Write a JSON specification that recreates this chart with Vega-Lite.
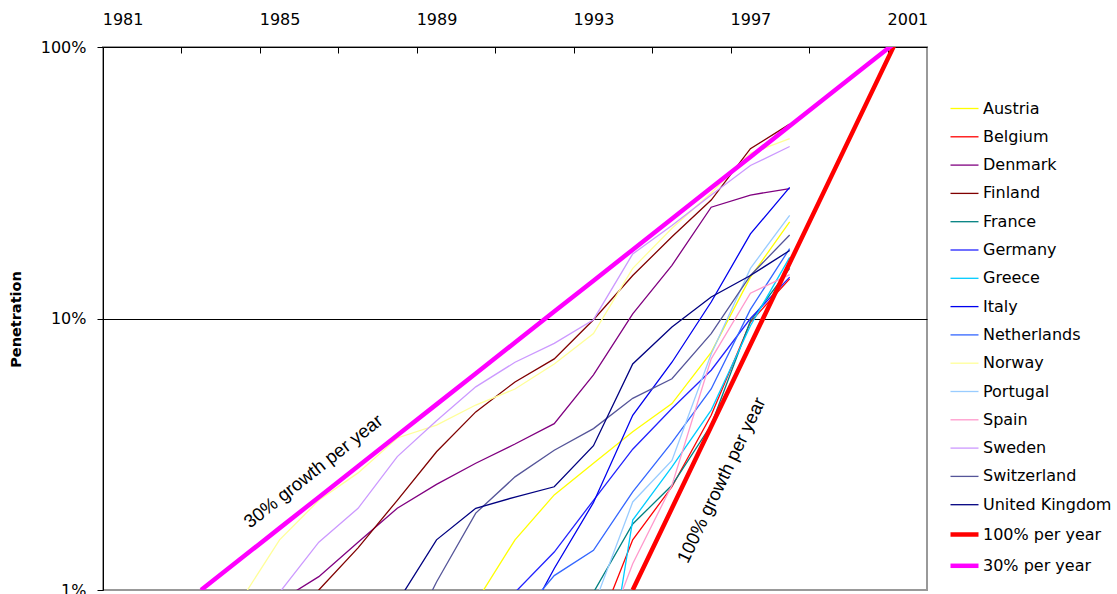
{
  "$schema": "https://vega.github.io/schema/vega-lite/v6.json",
  "width": 824,
  "height": 543,
  "autosize": {"type": "none"},
  "padding": {"left": 103, "top": 47, "right": 190, "bottom": 4},
  "background": "white",
  "config": {"view": {"stroke": "#999999", "strokeWidth": 2}, "font": "DejaVu Sans"},
  "layer": [
    {
      "data": {"values": [
        {"series": "Austria", "year": 1990, "penetration": 0.0090},
        {"series": "Austria", "year": 1991, "penetration": 0.0153},
        {"series": "Austria", "year": 1992, "penetration": 0.0224},
        {"series": "Austria", "year": 1993, "penetration": 0.0293},
        {"series": "Austria", "year": 1994, "penetration": 0.0383},
        {"series": "Austria", "year": 1995, "penetration": 0.0486},
        {"series": "Austria", "year": 1996, "penetration": 0.075},
        {"series": "Austria", "year": 1997, "penetration": 0.142},
        {"series": "Austria", "year": 1998, "penetration": 0.227},
        {"series": "Belgium", "year": 1993, "penetration": 0.0066},
        {"series": "Belgium", "year": 1994, "penetration": 0.0153},
        {"series": "Belgium", "year": 1995, "penetration": 0.024},
        {"series": "Belgium", "year": 1996, "penetration": 0.044},
        {"series": "Belgium", "year": 1997, "penetration": 0.097},
        {"series": "Belgium", "year": 1998, "penetration": 0.140},
        {"series": "Denmark", "year": 1985, "penetration": 0.0091},
        {"series": "Denmark", "year": 1986, "penetration": 0.0112},
        {"series": "Denmark", "year": 1987, "penetration": 0.015},
        {"series": "Denmark", "year": 1988, "penetration": 0.020},
        {"series": "Denmark", "year": 1989, "penetration": 0.0245},
        {"series": "Denmark", "year": 1990, "penetration": 0.0293},
        {"series": "Denmark", "year": 1991, "penetration": 0.0345},
        {"series": "Denmark", "year": 1992, "penetration": 0.041},
        {"series": "Denmark", "year": 1993, "penetration": 0.062},
        {"series": "Denmark", "year": 1994, "penetration": 0.104},
        {"series": "Denmark", "year": 1995, "penetration": 0.157},
        {"series": "Denmark", "year": 1996, "penetration": 0.257},
        {"series": "Denmark", "year": 1997, "penetration": 0.285},
        {"series": "Denmark", "year": 1998, "penetration": 0.301},
        {"series": "Finland", "year": 1985, "penetration": 0.006},
        {"series": "Finland", "year": 1986, "penetration": 0.010},
        {"series": "Finland", "year": 1987, "penetration": 0.0143},
        {"series": "Finland", "year": 1988, "penetration": 0.0214},
        {"series": "Finland", "year": 1989, "penetration": 0.0323},
        {"series": "Finland", "year": 1990, "penetration": 0.0453},
        {"series": "Finland", "year": 1991, "penetration": 0.0584},
        {"series": "Finland", "year": 1992, "penetration": 0.071},
        {"series": "Finland", "year": 1993, "penetration": 0.099},
        {"series": "Finland", "year": 1994, "penetration": 0.144},
        {"series": "Finland", "year": 1995, "penetration": 0.200},
        {"series": "Finland", "year": 1996, "penetration": 0.273},
        {"series": "Finland", "year": 1997, "penetration": 0.422},
        {"series": "Finland", "year": 1998, "penetration": 0.520},
        {"series": "France", "year": 1992, "penetration": 0.006},
        {"series": "France", "year": 1993, "penetration": 0.0098},
        {"series": "France", "year": 1994, "penetration": 0.0175},
        {"series": "France", "year": 1995, "penetration": 0.0243},
        {"series": "France", "year": 1996, "penetration": 0.0405},
        {"series": "France", "year": 1997, "penetration": 0.098},
        {"series": "France", "year": 1998, "penetration": 0.153},
        {"series": "Germany", "year": 1990, "penetration": 0.006},
        {"series": "Germany", "year": 1991, "penetration": 0.0098},
        {"series": "Germany", "year": 1992, "penetration": 0.0138},
        {"series": "Germany", "year": 1993, "penetration": 0.0214},
        {"series": "Germany", "year": 1994, "penetration": 0.033},
        {"series": "Germany", "year": 1995, "penetration": 0.0466},
        {"series": "Germany", "year": 1996, "penetration": 0.0645},
        {"series": "Germany", "year": 1997, "penetration": 0.100},
        {"series": "Germany", "year": 1998, "penetration": 0.142},
        {"series": "Greece", "year": 1993, "penetration": 0.0023},
        {"series": "Greece", "year": 1994, "penetration": 0.0181},
        {"series": "Greece", "year": 1995, "penetration": 0.0284},
        {"series": "Greece", "year": 1996, "penetration": 0.046},
        {"series": "Greece", "year": 1997, "penetration": 0.094},
        {"series": "Greece", "year": 1998, "penetration": 0.168},
        {"series": "Italy", "year": 1991, "penetration": 0.0065},
        {"series": "Italy", "year": 1992, "penetration": 0.012},
        {"series": "Italy", "year": 1993, "penetration": 0.021},
        {"series": "Italy", "year": 1994, "penetration": 0.044},
        {"series": "Italy", "year": 1995, "penetration": 0.069},
        {"series": "Italy", "year": 1996, "penetration": 0.115},
        {"series": "Italy", "year": 1997, "penetration": 0.205},
        {"series": "Italy", "year": 1998, "penetration": 0.304},
        {"series": "Netherlands", "year": 1991, "penetration": 0.0076},
        {"series": "Netherlands", "year": 1992, "penetration": 0.0113},
        {"series": "Netherlands", "year": 1993, "penetration": 0.014},
        {"series": "Netherlands", "year": 1994, "penetration": 0.023},
        {"series": "Netherlands", "year": 1995, "penetration": 0.035},
        {"series": "Netherlands", "year": 1996, "penetration": 0.055},
        {"series": "Netherlands", "year": 1997, "penetration": 0.108},
        {"series": "Netherlands", "year": 1998, "penetration": 0.181},
        {"series": "Norway", "year": 1984, "penetration": 0.0091},
        {"series": "Norway", "year": 1985, "penetration": 0.0153},
        {"series": "Norway", "year": 1986, "penetration": 0.0214},
        {"series": "Norway", "year": 1987, "penetration": 0.027},
        {"series": "Norway", "year": 1988, "penetration": 0.0363},
        {"series": "Norway", "year": 1989, "penetration": 0.0405},
        {"series": "Norway", "year": 1990, "penetration": 0.048},
        {"series": "Norway", "year": 1991, "penetration": 0.055},
        {"series": "Norway", "year": 1992, "penetration": 0.068},
        {"series": "Norway", "year": 1993, "penetration": 0.088},
        {"series": "Norway", "year": 1994, "penetration": 0.153},
        {"series": "Norway", "year": 1995, "penetration": 0.215},
        {"series": "Norway", "year": 1996, "penetration": 0.29},
        {"series": "Norway", "year": 1997, "penetration": 0.406},
        {"series": "Norway", "year": 1998, "penetration": 0.46},
        {"series": "Portugal", "year": 1993, "penetration": 0.0087},
        {"series": "Portugal", "year": 1994, "penetration": 0.0211},
        {"series": "Portugal", "year": 1995, "penetration": 0.030},
        {"series": "Portugal", "year": 1996, "penetration": 0.074},
        {"series": "Portugal", "year": 1997, "penetration": 0.153},
        {"series": "Portugal", "year": 1998, "penetration": 0.240},
        {"series": "Spain", "year": 1993, "penetration": 0.0052},
        {"series": "Spain", "year": 1994, "penetration": 0.0125},
        {"series": "Spain", "year": 1995, "penetration": 0.0243},
        {"series": "Spain", "year": 1996, "penetration": 0.071},
        {"series": "Spain", "year": 1997, "penetration": 0.124},
        {"series": "Spain", "year": 1998, "penetration": 0.145},
        {"series": "Sweden", "year": 1984, "penetration": 0.006},
        {"series": "Sweden", "year": 1985, "penetration": 0.0098},
        {"series": "Sweden", "year": 1986, "penetration": 0.015},
        {"series": "Sweden", "year": 1987, "penetration": 0.020},
        {"series": "Sweden", "year": 1988, "penetration": 0.031},
        {"series": "Sweden", "year": 1989, "penetration": 0.042},
        {"series": "Sweden", "year": 1990, "penetration": 0.056},
        {"series": "Sweden", "year": 1991, "penetration": 0.069},
        {"series": "Sweden", "year": 1992, "penetration": 0.081},
        {"series": "Sweden", "year": 1993, "penetration": 0.099},
        {"series": "Sweden", "year": 1994, "penetration": 0.173},
        {"series": "Sweden", "year": 1995, "penetration": 0.22},
        {"series": "Sweden", "year": 1996, "penetration": 0.285},
        {"series": "Sweden", "year": 1997, "penetration": 0.366},
        {"series": "Sweden", "year": 1998, "penetration": 0.43},
        {"series": "Switzerland", "year": 1988, "penetration": 0.0055},
        {"series": "Switzerland", "year": 1989, "penetration": 0.0107},
        {"series": "Switzerland", "year": 1990, "penetration": 0.0192},
        {"series": "Switzerland", "year": 1991, "penetration": 0.0261},
        {"series": "Switzerland", "year": 1992, "penetration": 0.0327},
        {"series": "Switzerland", "year": 1993, "penetration": 0.0393},
        {"series": "Switzerland", "year": 1994, "penetration": 0.0508},
        {"series": "Switzerland", "year": 1995, "penetration": 0.060},
        {"series": "Switzerland", "year": 1996, "penetration": 0.088},
        {"series": "Switzerland", "year": 1997, "penetration": 0.144},
        {"series": "Switzerland", "year": 1998, "penetration": 0.203},
        {"series": "United Kingdom", "year": 1988, "penetration": 0.009},
        {"series": "United Kingdom", "year": 1989, "penetration": 0.0153},
        {"series": "United Kingdom", "year": 1990, "penetration": 0.020},
        {"series": "United Kingdom", "year": 1991, "penetration": 0.022},
        {"series": "United Kingdom", "year": 1992, "penetration": 0.024},
        {"series": "United Kingdom", "year": 1993, "penetration": 0.034},
        {"series": "United Kingdom", "year": 1994, "penetration": 0.068},
        {"series": "United Kingdom", "year": 1995, "penetration": 0.093},
        {"series": "United Kingdom", "year": 1996, "penetration": 0.12},
        {"series": "United Kingdom", "year": 1997, "penetration": 0.144},
        {"series": "United Kingdom", "year": 1998, "penetration": 0.178},
        {"series": "100% per year", "year": 1994, "penetration": 0.01},
        {"series": "100% per year", "year": 1995, "penetration": 0.02},
        {"series": "100% per year", "year": 1996, "penetration": 0.04},
        {"series": "100% per year", "year": 1997, "penetration": 0.08},
        {"series": "100% per year", "year": 1998, "penetration": 0.16},
        {"series": "100% per year", "year": 1999, "penetration": 0.32},
        {"series": "100% per year", "year": 2000, "penetration": 0.64},
        {"series": "100% per year", "year": 2001, "penetration": 1.28},
        {"series": "30% per year", "year": 1983, "penetration": 0.01},
        {"series": "30% per year", "year": 1984, "penetration": 0.013},
        {"series": "30% per year", "year": 1985, "penetration": 0.0169},
        {"series": "30% per year", "year": 1986, "penetration": 0.02197},
        {"series": "30% per year", "year": 1987, "penetration": 0.02856},
        {"series": "30% per year", "year": 1988, "penetration": 0.03713},
        {"series": "30% per year", "year": 1989, "penetration": 0.04827},
        {"series": "30% per year", "year": 1990, "penetration": 0.06275},
        {"series": "30% per year", "year": 1991, "penetration": 0.08157},
        {"series": "30% per year", "year": 1992, "penetration": 0.10604},
        {"series": "30% per year", "year": 1993, "penetration": 0.13786},
        {"series": "30% per year", "year": 1994, "penetration": 0.17922},
        {"series": "30% per year", "year": 1995, "penetration": 0.23298},
        {"series": "30% per year", "year": 1996, "penetration": 0.30288},
        {"series": "30% per year", "year": 1997, "penetration": 0.39374},
        {"series": "30% per year", "year": 1998, "penetration": 0.51186},
        {"series": "30% per year", "year": 1999, "penetration": 0.66542},
        {"series": "30% per year", "year": 2000, "penetration": 0.86504},
        {"series": "30% per year", "year": 2001, "penetration": 1.12455}
      ]},
      "mark": {"type": "line", "clip": true},
      "encoding": {
        "x": {
          "field": "year", "type": "quantitative",
          "scale": {"domain": [1980.5, 2001.5], "nice": false, "zero": false},
          "axis": {
            "orient": "top", "title": null,
            "values": [1980.5,1981.5,1982.5,1983.5,1984.5,1985.5,1986.5,1987.5,1988.5,1989.5,1990.5,1991.5,1992.5,1993.5,1994.5,1995.5,1996.5,1997.5,1998.5,1999.5,2000.5,2001.5],
            "labelExpr": "(datum.value - 1980.5) % 4 === 0 && datum.value < 2001 ? format(datum.value + 0.5, 'd') : ''",
            "labelOffset": 19.62, "labelFlush": false, "labelBound": false,
            "labelAngle": 0, "labelFont": "DejaVu Sans", "labelFontSize": 16, "labelColor": "black",
            "labelBaseline": "alphabetic", "labelPadding": 28.4, "labelOverlap": false,
            "tickSize": -6, "tickColor": "black", "tickWidth": 1,
            "domainColor": "black", "domainWidth": 1, "grid": false
          }
        },
        "y": {
          "field": "penetration", "type": "quantitative",
          "scale": {"type": "log", "domain": [0.01, 1], "nice": false},
          "axis": {
            "title": "Penetration", "values": [0.01, 0.1, 1], "format": ".0%",
            "labelFont": "DejaVu Sans", "labelFontSize": 16, "labelColor": "black", "labelPadding": 11,
            "tickSize": 6, "tickColor": "black", "domainColor": "black", "domainWidth": 1,
            "grid": true, "gridColor": "black", "gridWidth": 1,
            "gridOpacity": {"condition": {"test": "abs(datum.value - 0.1) < 1e-9", "value": 1}, "value": 0},
            "titleFont": "DejaVu Sans", "titleFontWeight": "bold", "titleFontSize": 14.5, "titleColor": "black",
            "titleX": -87, "titleY": 272, "titleAngle": 270, "titleAlign": "center", "titleBaseline": "middle"
          }
        },
        "color": {
          "field": "series", "type": "nominal",
          "scale": {
            "domain": ["Austria","Belgium","Denmark","Finland","France","Germany","Greece","Italy","Netherlands","Norway","Portugal","Spain","Sweden","Switzerland","United Kingdom","100% per year","30% per year"],
            "range": ["#FFFF00","#FF0000","#800080","#800000","#008080","#2222FF","#00CCFF","#0000EE","#3366FF","#FFFF99","#99CCFF","#FF99CC","#CC99FF","#555599","#000080","#FF0000","#FF00FF"]
          },
          "legend": {
            "title": null, "orient": "none", "legendX": 845, "legendY": 46.5,
            "symbolType": "stroke", "symbolSize": 784, "labelFont": "DejaVu Sans", "labelFontSize": 16,
            "labelColor": "black", "labelOffset": 2, "rowPadding": 5.3, "padding": 0, "labelLimit": 200
          }
        },
        "strokeWidth": {
          "field": "series", "type": "nominal",
          "scale": {
            "type": "ordinal",
            "domain": ["Austria","Belgium","Denmark","Finland","France","Germany","Greece","Italy","Netherlands","Norway","Portugal","Spain","Sweden","Switzerland","United Kingdom","100% per year","30% per year"],
            "range": [1.3,1.3,1.3,1.3,1.3,1.3,1.3,1.3,1.3,1.3,1.3,1.3,1.3,1.3,1.3,4.5,4.5]
          },
          "legend": {
            "title": null, "orient": "none", "legendX": 845, "legendY": 46.5,
            "symbolType": "stroke", "symbolSize": 784, "labelFont": "DejaVu Sans", "labelFontSize": 16,
            "labelColor": "black", "labelOffset": 2, "rowPadding": 5.3, "padding": 0, "labelLimit": 200
          }
        }
      }
    },
    {
      "data": {"values": [{"year": 1985.86, "penetration": 0.0274, "label": "30% growth per year"}]},
      "mark": {"type": "text", "angle": 321.7, "font": "Liberation Sans", "fontSize": 18.5, "align": "center", "baseline": "middle", "color": "black"},
      "encoding": {
        "x": {"field": "year", "type": "quantitative"},
        "y": {"field": "penetration", "type": "quantitative"},
        "text": {"field": "label"}
      }
    },
    {
      "data": {"values": [{"year": 1996.26, "penetration": 0.0254, "label": "100% growth per year"}]},
      "mark": {"type": "text", "angle": 295.6, "font": "Liberation Sans", "fontSize": 18.5, "align": "center", "baseline": "middle", "color": "black"},
      "encoding": {
        "x": {"field": "year", "type": "quantitative"},
        "y": {"field": "penetration", "type": "quantitative"},
        "text": {"field": "label"}
      }
    }
  ]
}
